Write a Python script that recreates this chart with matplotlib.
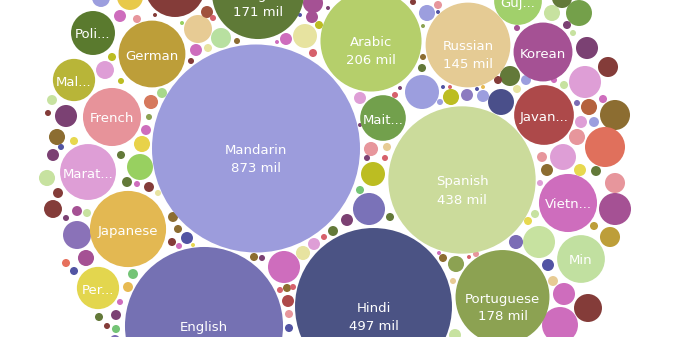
import matplotlib
matplotlib.use("Agg")
import matplotlib.pyplot as plt
from matplotlib.patches import Circle
import numpy as np

# labelled languages: display name, layout x, layout y, speakers (millions), colour
names = ["Mandarin", "Hindi", "Spanish", "English", "Arabic", "Portuguese", "Bengali",
         "Russian", "Japanese", "German", "Korean", "Javan...", "French", "Vietn...",
         "Marat...", "Min", "Guj...", "Mait...", "Poli...", "Mal...", "Per..."]
name_x = [256, 373.5, 462, 204, 371, 502.5, 258, 468, 128, 152, 543, 544, 112, 568,
          88, 581, 518, 383, 93, 74, 98]
name_y = [148.5, 306.5, 180, 326, 41, 297, -7, 45, 229, 54, 52, 115, 117, 203,
          172, 259, 1, 118, 33, 80, 288]
speakers = [873, 497, 438, 504, 206, 178, 171, 145, 117, 90, 70, 72, 68, 68,
            63, 46, 46, 42, 39, 36, 36]
name_colors = ["#9c9cdc", "#4b5384", "#cbdb9b", "#7571b3", "#b5cf6b", "#8ca252",
               "#5f7a37", "#e5cb94", "#e3b852", "#bd9e39", "#a55194", "#ad494a",
               "#e7939a", "#ce6dbd", "#de9ed6", "#c1e0a0", "#a1d06b", "#72a04c",
               "#5a7a2e", "#b8b538", "#e3d64e"]

# unlabelled small languages: layout x, layout y, speakers (millions), colour
P, PL, PLUM, PURP = "#ce6dbd", "#de9ed6", "#a55194", "#7b4173"
LR, RED, BR, MAR = "#e7969c", "#d6616b", "#ad494a", "#843c39"
TAN, YEL, GOLD, OB = "#e7cb94", "#e7ba52", "#bd9e39", "#8c6d31"
PG, G, DG, LAV = "#c7e2a0", "#8ca252", "#637939", "#9c9ede"
BLU, NAV, OY, PY = "#7b6cb5", "#5254a3", "#bcbd22", "#e7e3a0"
OR, BG, MG, LY = "#e6705c", "#98d060", "#74c476", "#e7d84f"

small = [
    (101, -2, 6.5, LAV), (130, -3, 13.6, "#e8c94a"), (175, -13, 72.6, MAR),
    (120, 16, 2.9, P), (137, 19, 1.3, LR), (155, 15, 0.32, MAR), (182, 23, 0.32, BG),
    (198, 29, 15.8, TAN), (207, 12, 2.9, "#a0523d"), (213, 18, 0.73, RED),
    (221, 38, 8.1, "#b8e0a0"), (208, 48, 1.3, PY), (196, 50, 2.9, P), (191, 61, 0.73, MAR),
    (237, 41, 0.73, OB), (286, 39, 2.9, P), (305, 36, 11.6, PY), (313, 53, 1.3, RED),
    (319, 25, 1.3, OY), (312, 17, 2.9, PLUM), (313, 3, 8.1, PLUM), (328, 8, 0.32, PURP),
    (300, 15, 0.32, NAV), (277, 42, 0.32, P), (112, 57, 1.3, OY), (105, 70, 6.5, PL),
    (121, 81, 0.73, OY), (162, 93, 2.0, "#a8d88a"), (151, 102, 4.0, "#d6795d"),
    (52, 100, 2.0, PG), (48, 113, 0.73, MAR), (66, 116, 9.8, PURP), (149, 117, 0.73, G),
    (146, 130, 2.0, P), (57, 137, 5.2, OB), (61, 147, 0.73, NAV), (74, 141, 1.3, LY),
    (142, 144, 5.2, "#e8d24a"), (121, 155, 1.3, DG), (53, 155, 2.9, PURP),
    (140, 167, 13.6, BG), (47, 178, 5.2, PG), (58, 193, 2.0, MAR), (53, 209, 6.5, MAR),
    (66, 218, 0.73, PURP), (77, 211, 2.0, PLUM), (87, 213, 1.3, PG), (77, 235, 15.8, "#8a72b8"),
    (66, 263, 1.3, OR), (86, 258, 5.2, PLUM), (74, 271, 1.3, NAV), (127, 182, 2.0, DG),
    (137, 184, 0.73, P), (149, 187, 2.0, MAR), (158, 193, 0.73, PY), (173, 217, 2.0, OB),
    (178, 229, 1.3, OB), (187, 238, 2.9, NAV), (172, 242, 1.3, MAR), (179, 246, 0.73, P),
    (193, 245, 0.32, LY), (133, 274, 2.0, MG), (128, 287, 2.0, YEL), (120, 302, 0.73, P),
    (116, 315, 2.0, PURP), (99, 317, 1.3, DG), (107, 326, 0.73, MAR), (116, 329, 1.3, MG),
    (115, 340, 2.0, BLU), (254, 257, 1.3, OB), (262, 258, 0.73, PURP), (284, 267, 20.7, P),
    (303, 253, 4.0, PY), (314, 244, 2.9, PL), (333, 231, 2.0, DG), (324, 237, 0.73, RED),
    (287, 288, 1.3, OB), (293, 287, 0.73, RED), (288, 301, 2.9, BR), (289, 314, 1.3, LR),
    (289, 328, 1.3, NAV), (280, 290, 0.73, RED),
    (413, 2, 0.73, MAR), (427, 13, 5.2, LAV), (438, 5, 1.3, LR), (438, 12, 0.32, NAV),
    (423, 57, 0.73, OB), (422, 68, 1.3, DG), (423, 26, 0.32, G), (360, 98, 2.9, PL),
    (395, 95, 0.73, RED), (400, 88, 0.32, PURP), (422, 92, 23.3, LAV), (451, 97, 5.2, OY),
    (467, 95, 2.9, "#8c7bc0"), (483, 96, 2.9, LAV), (440, 102, 0.73, LAV), (443, 87, 0.32, NAV),
    (450, 87, 0.32, RED), (477, 89, 0.32, NAV), (483, 87, 0.32, YEL), (510, 76, 8.1, DG),
    (498, 80, 1.3, MAR), (526, 80, 2.0, LAV), (517, 89, 1.3, PY), (501, 102, 13.6, "#4a4f8a"),
    (517, 28, 0.73, PLUM), (552, 13, 5.2, PG), (579, 13, 13.6, "#74a04a"), (562, -2, 8.1, DG),
    (567, 25, 1.3, PURP), (573, 33, 0.73, PG), (587, 48, 9.8, PURP), (608, 67, 8.1, MAR),
    (585, 82, 20.7, PL), (564, 85, 1.3, PG), (554, 80, 0.73, P), (603, 99, 1.3, P),
    (589, 107, 5.2, "#b5623e"), (577, 103, 0.73, BLU), (615, 115, 18.2, OB), (581, 122, 2.9, PL),
    (594, 122, 2.0, LAV), (577, 137, 5.2, LR), (605, 147, 32.3, "#e0705c"), (563, 157, 13.6, PL),
    (542, 157, 2.0, LR), (547, 170, 2.9, OB), (580, 170, 2.9, LY), (596, 171, 2.0, DG),
    (371, 149, 4.0, LR), (387, 147, 1.3, TAN), (373, 174, 11.6, OY), (367, 158, 0.73, PURP),
    (385, 158, 0.73, RED), (348, 110, 0.32, P), (352, 128, 0.32, OY), (346, 140, 0.32, RED),
    (360, 125, 0.32, PURP), (345, 160, 0.32, DG), (356, 142, 0.32, LR),
    (369, 209, 20.7, "#7a72b8"), (347, 220, 2.9, PURP), (390, 217, 1.3, DG), (360, 190, 1.3, MG),
    (615, 183, 8.1, LR), (615, 209, 20.7, PLUM), (594, 226, 1.3, GOLD), (610, 237, 8.1, GOLD),
    (540, 183, 0.73, PL), (535, 214, 1.3, PG), (528, 221, 1.3, LY), (539, 242, 20.7, PG),
    (516, 242, 4.0, BLU), (548, 265, 2.9, NAV), (553, 281, 2.0, TAN), (564, 294, 9.8, P),
    (588, 308, 15.8, MAR), (560, 325, 26.1, P), (443, 258, 1.3, OB), (456, 264, 5.2, G),
    (439, 253, 0.32, P), (469, 257, 0.32, RED), (476, 254, 0.73, LR), (453, 281, 0.73, TAN),
    (455, 335, 2.9, PG),
]
small_x = [s[0] for s in small]
small_y = [s[1] for s in small]
small_v = [s[2] for s in small]
small_c = [s[3] for s in small]

K = 3.52  # radius per sqrt(million speakers)

fig = plt.figure(figsize=(6.74, 3.37), dpi=100)
ax = fig.add_axes([0, 0, 1, 1])
ax.set_xlim(0, 674)
ax.set_ylim(337, 0)
ax.axis("off")

for x, y, v, c in zip(small_x, small_y, small_v, small_c):
    ax.add_patch(Circle((x, y), K * np.sqrt(v), facecolor=c, edgecolor="none"))

for n, x, y, v, c in zip(names, name_x, name_y, speakers, name_colors):
    r = K * np.sqrt(v)
    ax.add_patch(Circle((x, y), r, facecolor=c, edgecolor="none"))
    ax.text(x, y + 2, n, color="white", fontsize=9.5, ha="center", va="center")
    if r > 40:
        ax.text(x, y + 20, "%d mil" % v, color="white", fontsize=9.5,
                ha="center", va="center")

fig.savefig("out.png", dpi=100)
